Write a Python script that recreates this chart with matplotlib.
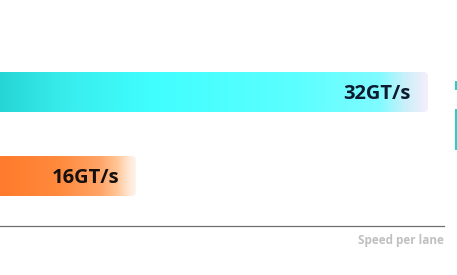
import numpy as np
import matplotlib
matplotlib.use("Agg")
import matplotlib.pyplot as plt
from matplotlib.colors import to_rgb
from matplotlib.patches import FancyBboxPatch, Rectangle

# data
labels = ["32GT/s", "16GT/s"]
speeds = [32, 16]
positions = [1, 0]

# gradient stops (fraction of bar length, colour) for each bar
grad_cyan = [(0.0, "#1cc8c8"), (0.267, "#25d5d5"), (0.37, "#38ebeb"), (0.524, "#40fefe"),
             (0.78, "#5cffff"), (0.918, "#80fbff"), (0.96, "#c8f0fa"), (1.0, "#f5eefa")]
grad_orange = [(0.0, "#ff7020"), (0.534, "#ff7a2a"), (0.74, "#ff8a3e"), (0.877, "#ffa466"),
               (0.938, "#ffc698"), (0.973, "#ffe4d0"), (1.0, "#fff3ec")]
gradients = [grad_cyan, grad_orange]
text_colors = ["#0c1c30", "#141010"]

W, H = 457, 275
fig = plt.figure(figsize=(W / 100, H / 100), dpi=100)
ax = fig.add_axes([0, 49 / H, 444 / W, 226 / H])
ax.set_xlim(8.55, 32.88)
ax.set_ylim(-0.595, 2.095)

for s in ["top", "right", "left"]:
    ax.spines[s].set_visible(False)
ax.spines["bottom"].set_color("#707070")
ax.spines["bottom"].set_linewidth(0.9)
ax.set_xticks([])
ax.set_yticks([])

bar_h = 0.476
fig.canvas.draw()
# data units per pixel, for rounding corners
x_per_px = (ax.get_xlim()[1] - ax.get_xlim()[0]) / ax.bbox.width
y_per_px = (ax.get_ylim()[1] - ax.get_ylim()[0]) / ax.bbox.height
r_px = 4

for val, pos, lab, grad, tc in zip(speeds, positions, labels, gradients, text_colors):
    box = FancyBboxPatch((0, pos - bar_h / 2), val, bar_h,
                         boxstyle=f"round,pad=0,rounding_size={r_px * x_per_px}",
                         mutation_aspect=y_per_px / x_per_px,
                         facecolor="none", edgecolor="none")
    ax.add_patch(box)
    fr = np.linspace(0, 1, 600)
    stops = [p for p, _ in grad]
    cols = np.array([to_rgb(c) for _, c in grad])
    img = np.stack([np.interp(fr, stops, cols[:, k]) for k in range(3)], axis=-1)[None, :, :]
    im = ax.imshow(img, extent=[0, val, pos - bar_h / 2, pos + bar_h / 2],
                   aspect="auto", interpolation="bilinear", zorder=2)
    im.set_clip_path(box)
    ax.annotate(lab, xy=(val, pos), xytext=(-17, -2), textcoords="offset pixels",
                ha="right", va="center", fontsize=14.5, fontweight="bold",
                family="Open Sans", color=tc, zorder=3)

ax.set_xlabel("Speed per lane", loc="right", fontsize=8.5, fontweight="bold",
              family="Open Sans", color="#c0c0c0", labelpad=6)

# cut-off marks at the right edge
fig.patches.append(Rectangle((455 / W, 1 - 90 / H), 3 / W, 9 / H, transform=fig.transFigure,
                             facecolor="#1fd3c6", edgecolor="none"))
fig.patches.append(Rectangle((455 / W, 1 - 150 / H), 3 / W, 41 / H, transform=fig.transFigure,
                             facecolor="#1fd3c6", edgecolor="none"))

fig.savefig("out.png", dpi=100)
